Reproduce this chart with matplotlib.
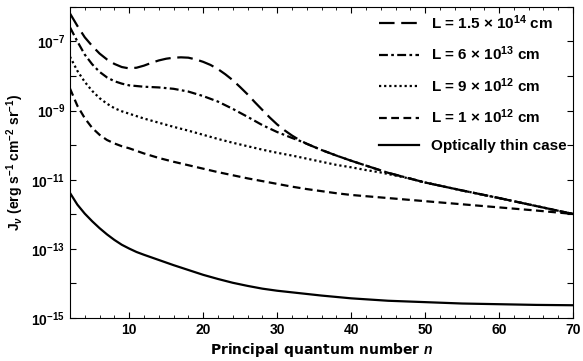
import numpy as np
import matplotlib
matplotlib.use('Agg')
import matplotlib.pyplot as plt
from matplotlib.ticker import FixedLocator, MultipleLocator

plt.rcParams['font.family'] = 'Liberation Sans'
plt.rcParams['font.weight'] = 'bold'
plt.rcParams['mathtext.fontset'] = 'custom'
plt.rcParams['mathtext.rm'] = 'Liberation Sans:bold'
plt.rcParams['mathtext.bf'] = 'Liberation Sans:bold'
plt.rcParams['mathtext.it'] = 'Liberation Sans:bold:italic'

# log10(J_nu)
n_a = [2, 3, 4, 5, 6, 7, 8, 9, 10, 11, 12, 13, 14, 15, 16, 17, 18, 19, 20, 21, 22,
       23, 24, 25, 26, 27, 28, 29, 30, 31, 32, 33, 34, 36, 38, 40, 45, 50, 55, 60, 65, 70]
L150e12 = [-6.19, -6.55, -6.88, -7.13, -7.35, -7.52, -7.65, -7.74, -7.78, -7.76, -7.70,
           -7.62, -7.55, -7.50, -7.47, -7.46, -7.47, -7.52, -7.59, -7.68, -7.80, -7.95,
           -8.12, -8.32, -8.53, -8.76, -8.98, -9.20, -9.40, -9.57, -9.72, -9.85, -9.96,
           -10.14, -10.30, -10.45, -10.80, -11.08, -11.31, -11.53, -11.76, -11.99]

n_b = [2, 3, 4, 5, 6, 7, 8, 9, 10, 12, 14, 16, 18, 20, 22, 24, 26, 28, 30, 32, 33, 34,
       36, 38, 40, 45, 50, 55, 60, 65, 70]
L60e12 = [-6.59, -7.00, -7.38, -7.66, -7.88, -8.04, -8.15, -8.22, -8.27, -8.31, -8.33,
          -8.37, -8.45, -8.58, -8.74, -8.95, -9.18, -9.42, -9.62, -9.79, -9.87, -9.96,
          -10.14, -10.30, -10.45, -10.80, -11.08, -11.31, -11.53, -11.76, -11.99]

n_c = [2, 3, 4, 5, 6, 7, 8, 9, 10, 12, 14, 16, 18, 20, 22, 24, 26, 28, 30, 32, 34, 36,
       38, 40, 42, 44, 46, 48, 50, 55, 60, 65, 70]
L9e12 = [-7.44, -7.85, -8.17, -8.43, -8.64, -8.80, -8.93, -9.02, -9.09, -9.23, -9.35,
         -9.47, -9.58, -9.70, -9.82, -9.93, -10.03, -10.13, -10.22, -10.30, -10.39,
         -10.48, -10.57, -10.64, -10.72, -10.79, -10.88, -10.97, -11.08, -11.31, -11.53,
         -11.76, -11.99]

n_d = [2, 3, 4, 5, 6, 7, 8, 9, 10, 12, 14, 16, 18, 20, 22, 24, 26, 28, 30, 32, 34, 36,
       38, 40, 45, 50, 55, 60, 65, 70]
L1e12 = [-8.36, -8.86, -9.22, -9.50, -9.70, -9.85, -9.95, -10.03, -10.09, -10.24, -10.37,
         -10.48, -10.58, -10.68, -10.78, -10.87, -10.96, -11.04, -11.12, -11.20, -11.27,
         -11.33, -11.39, -11.44, -11.53, -11.62, -11.71, -11.80, -11.89, -11.99]

n_e = [2, 3, 4, 5, 6, 7, 8, 9, 10, 11, 12, 14, 16, 18, 20, 22, 24, 26, 28, 30, 33, 36,
       40, 45, 50, 55, 60, 65, 70]
thin = [-11.38, -11.72, -11.98, -12.20, -12.40, -12.58, -12.74, -12.88, -12.99, -13.09,
        -13.17, -13.32, -13.47, -13.61, -13.75, -13.87, -13.98, -14.07, -14.15, -14.21,
        -14.28, -14.35, -14.43, -14.50, -14.54, -14.58, -14.60, -14.62, -14.63]

fig = plt.figure(figsize=(5.83, 3.61), dpi=100)
ax = fig.add_axes([0.12, 0.119, 0.863, 0.862])

lw = 1.6
ax.plot(n_a, 10.0 ** np.array(L150e12), color='black', lw=lw, dashes=(7, 3),
        label=r'L = 1.5 × 10$^{14}$ cm')
ax.plot(n_b, 10.0 ** np.array(L60e12), color='black', lw=lw, dashes=(4, 1.5, 1.2, 1.5),
        label=r'L = 6 × 10$^{13}$ cm')
ax.plot(n_c, 10.0 ** np.array(L9e12), color='black', lw=lw, dashes=(1, 1.3),
        label=r'L = 9 × 10$^{12}$ cm')
ax.plot(n_d, 10.0 ** np.array(L1e12), color='black', lw=lw, dashes=(3.5, 2),
        label=r'L = 1 × 10$^{12}$ cm')
ax.plot(n_e, 10.0 ** np.array(thin), color='black', lw=lw, label='Optically thin case')

ax.set_yscale('log')
ax.set_xlim(2, 70)
ax.set_ylim(1e-15, 1e-6)

ax.xaxis.set_major_locator(MultipleLocator(10))
ax.xaxis.set_minor_locator(MultipleLocator(2))
decades = [10.0 ** k for k in range(-15, -5)]
ax.yaxis.set_major_locator(FixedLocator(decades))
ax.yaxis.set_minor_locator(FixedLocator([]))
ax.set_yticklabels([r'$10^{%d}$' % k if k % 2 else '' for k in range(-15, -5)])
ax.tick_params(which='both', direction='in', top=True, right=True, labelsize=10)
ax.tick_params(which='major', length=4, width=0.8)
ax.tick_params(which='minor', length=2, width=0.6)
for t in ax.get_xticklabels():
    t.set_fontweight('bold')

ax.set_xlabel('Principal quantum number $\\mathit{n}$', fontsize=10,
              family='DejaVu Sans', fontweight='bold', labelpad=3)
ax.set_ylabel(r'J$_{\nu}$ (erg s$^{-1}$ cm$^{-2}$ sr$^{-1}$)', fontsize=10, fontweight='bold')

leg = ax.legend(loc='upper right', frameon=False, fontsize=11, handlelength=2.6,
                labelspacing=0.85, handletextpad=0.8, borderaxespad=0.0,
                borderpad=0.4)
for t in leg.get_texts():
    t.set_fontweight('bold')

fig.savefig('out.png', dpi=100)
